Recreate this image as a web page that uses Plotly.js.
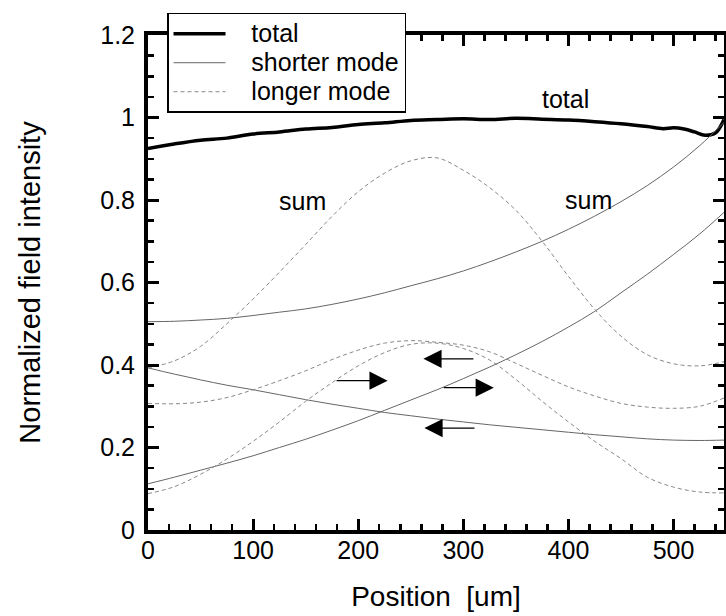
<!DOCTYPE html>
<html>
<head>
<meta charset="utf-8">
<script src="https://cdn.plot.ly/plotly-3.0.1.min.js"></script>
<style>html,body{margin:0;padding:0;background:#fff;}#chart{width:726px;height:616px;}</style>
</head>
<body>
<div id="chart"></div>
<script>
// Position grid (um)
const positions = [0,25,50,75,100,125,150,175,200,225,250,275,300,325,350,375,400,425,450,475,500,525,548];

// Total field
const totalX = [0,25,50,75,100,125,150,175,200,225,250,275,300,325,350,375,400,425,450,475,490,500,510,520,530,540,548];
const totalY = [0.925,0.936,0.945,0.950,0.960,0.965,0.972,0.976,0.983,0.987,0.993,0.995,0.997,0.995,0.998,0.996,0.994,0.990,0.985,0.978,0.973,0.975,0.972,0.965,0.957,0.963,0.995];

// Shorter mode (solid)
const shortForward  = [0.112,0.128,0.145,0.162,0.180,0.200,0.220,0.242,0.265,0.290,0.315,0.340,0.367,0.395,0.425,0.457,0.492,0.530,0.575,0.620,0.668,0.718,0.770];
const shortBackward = [0.393,0.378,0.364,0.351,0.340,0.328,0.316,0.305,0.295,0.285,0.277,0.269,0.262,0.255,0.249,0.243,0.237,0.231,0.226,0.221,0.218,0.217,0.218];
const shortSum      = [0.505,0.506,0.509,0.513,0.520,0.528,0.536,0.547,0.560,0.575,0.592,0.609,0.628,0.650,0.674,0.700,0.729,0.761,0.796,0.835,0.880,0.932,0.988];

// Longer mode (dashed)
const longForward  = [0.088,0.105,0.135,0.172,0.215,0.262,0.312,0.357,0.398,0.430,0.450,0.453,0.440,0.412,0.365,0.312,0.262,0.215,0.173,0.128,0.104,0.092,0.090];
const longBackward = [0.307,0.306,0.310,0.321,0.340,0.362,0.386,0.413,0.436,0.453,0.459,0.455,0.448,0.432,0.404,0.375,0.347,0.325,0.307,0.298,0.295,0.300,0.320];
const longSum      = [0.393,0.410,0.445,0.500,0.560,0.625,0.692,0.760,0.820,0.865,0.895,0.902,0.872,0.830,0.775,0.700,0.615,0.535,0.470,0.425,0.403,0.398,0.408];

// Legend names
const legendNames = ["total","shorter mode","longer mode"];

// Text labels
const labelText = ["total","sum","sum"];
const labelX = [397,147,419];
const labelY = [1.045,0.797,0.80];

// Direction arrows
const arrowTailX = [178,280,311,312];
const arrowHeadX = [228,329,262,263];
const arrowY     = [0.362,0.345,0.415,0.247];

const FONT = "Liberation Sans, Arial, sans-serif";
const solidStyle = {color:'#666', width:1, shape:'spline'};
const dashStyle = {color:'#888', width:1, dash:'4px,3px', shape:'spline'};
const pad = '\u00a0\u00a0\u00a0';
const legName = n => '<span style="font-size:25px">' + pad + n + '</span>';

const traces = [
  {x: totalX, y: totalY, mode:'lines', name:legName(legendNames[0]), line:{color:'#000', width:3.5, shape:'spline'}},
  {x: positions, y: shortForward, mode:'lines', name:legName(legendNames[1]), legendgroup:'s', line:solidStyle},
  {x: positions, y: shortBackward, mode:'lines', name:legendNames[1], legendgroup:'s', showlegend:false, line:solidStyle},
  {x: positions, y: shortSum, mode:'lines', name:legendNames[1], legendgroup:'s', showlegend:false, line:solidStyle},
  {x: positions, y: longForward, mode:'lines', name:legName(legendNames[2]), legendgroup:'l', line:dashStyle},
  {x: positions, y: longBackward, mode:'lines', name:legendNames[2], legendgroup:'l', showlegend:false, line:dashStyle},
  {x: positions, y: longSum, mode:'lines', name:legendNames[2], legendgroup:'l', showlegend:false, line:dashStyle}
];

const annotations = [];
for (let i = 0; i < labelText.length; i++) {
  annotations.push({x: labelX[i], y: labelY[i], xref:'x', yref:'y', text: labelText[i], showarrow:false,
    font:{family:FONT, size:25, color:'#000'}});
}
for (let i = 0; i < arrowY.length; i++) {
  annotations.push({x: arrowHeadX[i], y: arrowY[i], ax: arrowTailX[i], ay: arrowY[i], xref:'x', yref:'y', axref:'x', ayref:'y',
    text:'', showarrow:true, arrowhead:2, arrowsize:2.8, arrowwidth:1.3, arrowcolor:'#000'});
}

const axisCommon = {
  showline:true, linewidth:4, linecolor:'#000', mirror:'allticks',
  ticks:'inside', ticklen:11, tickwidth:3, tickcolor:'#000',
  showgrid:false, zeroline:false,
  tickfont:{family:FONT, size:25, color:'#000'}
};

const layout = {
  width:726, height:616,
  margin:{l:148, r:2, t:35, b:86},
  paper_bgcolor:'#fff', plot_bgcolor:'#fff',
  font:{family:FONT, color:'#000'},
  showlegend:true,
  legend:{x:0.033, y:1.045, xanchor:'left', yanchor:'top', bgcolor:'#fff', bordercolor:'#000', borderwidth:1.5,
    font:{family:FONT, size:20, color:'#000'}, tracegroupgap:0, itemwidth:52},
  xaxis: Object.assign({}, axisCommon, {
    range:[0,548], tick0:0, dtick:100, ticklabelstandoff:-5,
    minor:{dtick:20, ticklen:6, tickwidth:2.5, tickcolor:'#000', ticks:'inside'},
    title:{text:'Position  [um]', font:{family:FONT, size:28, color:'#000'}, standoff:24}
  }),
  yaxis: Object.assign({}, axisCommon, {
    range:[0,1.2], tick0:0, dtick:0.2, ticklabelstandoff:4,
    minor:{dtick:0.05, ticklen:6, tickwidth:2.5, tickcolor:'#000', ticks:'inside'},
    title:{text:'Normalized field intensity', font:{family:FONT, size:29, color:'#000'}, standoff:52}
  }),
  annotations: annotations
};

Plotly.newPlot('chart', traces, layout, {staticPlot:true, displayModeBar:false});
</script>
</body>
</html>
